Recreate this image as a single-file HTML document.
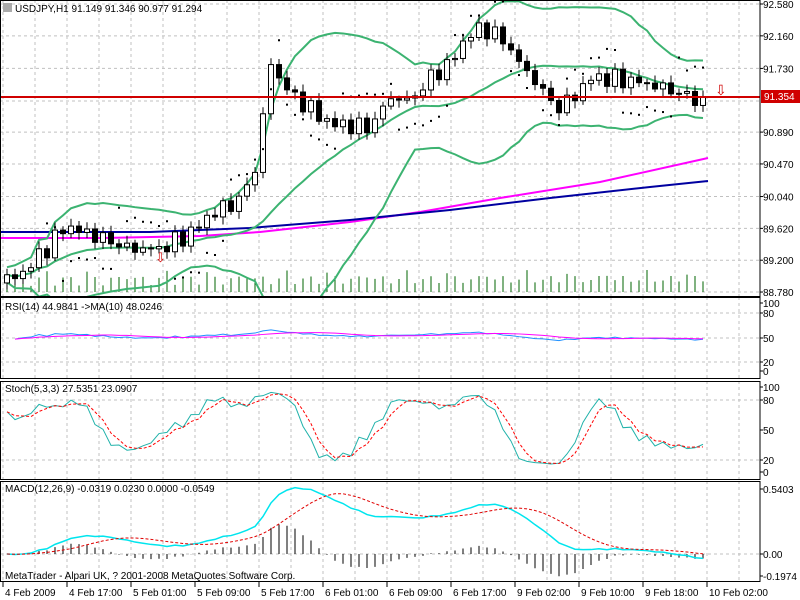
<!DOCTYPE html>
<html><head><meta charset="utf-8"><style>
body{margin:0;background:#fff;}
svg{display:block;font-family:"Liberation Sans",sans-serif;font-size:10px;}
</style></head><body>
<svg id="s" width="800" height="600" xmlns="http://www.w3.org/2000/svg"></svg>
<script>
const S=document.getElementById('s');let h='<defs><clipPath id="cm"><rect x="0" y="0" width="760" height="296"/></clipPath><clipPath id="cr"><rect x="0" y="298" width="760" height="80"/></clipPath></defs>';
function add(x){h+=x;}
const R=760;
const P=[[0,297],[297,379],[381,480],[481,582]];
function grid(t,b){let g='';for(let x=3;x<R;x+=32)g+=`<line x1="${x}" y1="${t}" x2="${x}" y2="${b}" stroke="#c0c0c0" stroke-dasharray="3,3"/>`;return g;}
P.forEach(p=>add(grid(p[0],p[1])));
function hl(y){add(`<line x1="0" y1="${y}" x2="${R}" y2="${y}" stroke="#c0c0c0" stroke-dasharray="3,3"/>`);}
const Y=p=>4+(92.58-p)*75.8;
const lab=[92.58,92.16,91.73,91.30,90.89,90.47,90.04,89.62,89.20,88.78];
lab.forEach(v=>{hl(Y(v));if(v!=91.30)add(`<text x="763" y="${Y(v)+4}">${v.toFixed(3)}</text><line x1="${R}" y1="${Y(v)}" x2="${R+3}" y2="${Y(v)}" stroke="#000"/>`);});
const K=[[7,88.95],[20,89.0],[50,89.4],[65,89.65],[100,89.5],[130,89.35],[160,89.35],[190,89.55],[210,89.8],[240,90.0],[255,90.4],[262,91.0],[270,91.8],[290,91.4],[310,91.2],[330,91.0],[370,90.95],[390,91.35],[410,91.3],[430,91.6],[450,91.8],[470,92.2],[490,92.25],[510,92.0],[525,91.7],[540,91.5],[555,91.2],[570,91.3],[590,91.6],[610,91.6],[640,91.55],[670,91.45],[700,91.3],[708,91.29]];
function ip(x){for(let i=0;i<K.length-1;i++)if(x<=K[i+1][0]){const t=(x-K[i][0])/(K[i+1][0]-K[i][0]);return K[i][1]+t*(K[i+1][1]-K[i][1]);}return K[K.length-1][1];}
const xs=[],C=[],O=[],Hh=[],L=[];
let prev=88.9;
for(let x=7;x<=708;x+=8){const n=Math.sin(x*0.37)*0.08+Math.sin(x*1.3)*0.05;const c=ip(x)+n;xs.push(x);O.push(prev);C.push(c);Hh.push(Math.max(prev,c)+0.04+Math.abs(Math.sin(x))*0.06);L.push(Math.min(prev,c)-0.04-Math.abs(Math.cos(x))*0.06);prev=c;}
const N=C.length;
xs.forEach((x,i)=>{const v=6+Math.abs(Math.sin(i*2.1))*10+(i%5==0?6:0);add(`<line x1="${x}" y1="292" x2="${x}" y2="${292-v}" stroke="#006400"/>`);});
add(`<polyline fill="none" stroke="#ff00ff" stroke-width="2" points="0,238 100,238 200,236 260,232 350,222 420,212 500,198 600,182 708,158"/>`);
add(`<polyline fill="none" stroke="#0000a0" stroke-width="2" points="0,232 150,232 250,228 350,220 450,210 550,198 650,187 708,181"/>`);
let up=[],lo=[],mid=[];
for(let i=0;i<N;i++){const a=C.slice(Math.max(0,i-19),i+1);const m=a.reduce((s,v)=>s+v,0)/a.length;const sd=Math.sqrt(a.reduce((s,v)=>s+(v-m)*(v-m),0)/a.length)+0.05;up.push(xs[i]+','+Y(m+2*sd));lo.push(xs[i]+','+Y(m-2*sd));mid.push(xs[i]+','+Y(m));}
add('<g clip-path="url(#cm)">');
[up,lo,mid].forEach(a=>add(`<polyline fill="none" stroke="#3cb371" stroke-width="2" points="${a.join(' ')}"/>`));
add('</g>');
for(let i=0;i<N;i++){const x=xs[i];add(`<line x1="${x}" y1="${Y(Hh[i])}" x2="${x}" y2="${Y(L[i])}" stroke="#000"/>`);const t=Y(Math.max(O[i],C[i])),b=Y(Math.min(O[i],C[i]));add(`<rect x="${x-2.5}" y="${t}" width="5" height="${Math.max(1,b-t)}" fill="${C[i]>=O[i]?'#fff':'#000'}" stroke="#000"/>`);}
for(let i=5;i<N;i++){const d=(i%14<7)?Hh[i-1]+0.25:L[i-1]-0.25;add(`<rect x="${xs[i]-1}" y="${Y(d)}" width="2" height="2" fill="#000"/>`);}
add(`<line x1="0" y1="97" x2="${R}" y2="97" stroke="#d00000" stroke-width="2"/><rect x="761" y="90" width="39" height="13" fill="#d00000"/><text x="764" y="100" fill="#fff">91.354</text>`);
add(`<text x="155" y="262" fill="#d00000" font-size="13">⇩</text><text x="715" y="95" fill="#d00000" font-size="14">⇩</text>`);
add(`<rect x="3" y="3" width="9" height="9" fill="#aaa"/><text x="15" y="12">USDJPY,H1  91.149 91.346 90.977 91.294</text>`);
const ry=v=>371-v*0.68;
[[100,303],[80,313],[50,338],[20,362],[0,371]].forEach(([v,y])=>{if(v==80||v==50||v==20)hl(y);add(`<text x="763" y="${y+4}">${v}</text><line x1="${R}" y1="${y}" x2="${R+3}" y2="${y}" stroke="#000"/>`);});
let rsi=[],g=0.03,l=0.03;
for(let i=1;i<N;i++){const d=C[i]-C[i-1];g=(g*13+Math.max(d,0))/14;l=(l*13+Math.max(-d,0))/14;rsi.push(100-100/(1+g/(l||1e-6)));}
const rs=rsi.map((v,i)=>48+(v-50)*0.35);
let rp=rs.map((v,i)=>xs[i+1]+','+ry(v)).join(' ');
let rma=rs.map((v,i)=>{const a=rs.slice(Math.max(0,i-9),i+1);return xs[i+1]+','+ry(a.reduce((s,q)=>s+q,0)/a.length);}).join(' ');
add(`<g clip-path="url(#cr)"><polyline fill="none" stroke="#1e90ff" points="${rp}"/><polyline fill="none" stroke="#ff00ff" points="${rma}"/></g>`);
add(`<text x="5" y="310">RSI(14) 44.9841  ->MA(10) 48.0246</text>`);
const sy=v=>472-v*0.85;
[[100,387],[80,400],[50,430],[20,460],[0,472]].forEach(([v,y])=>{if(v==80||v==20)hl(y);add(`<text x="763" y="${y+4}">${v}</text><line x1="${R}" y1="${y}" x2="${R+3}" y2="${y}" stroke="#000"/>`);});
let k=[];for(let i=0;i<N;i++){const a=Math.max(0,i-4);const hh=Math.max(...Hh.slice(a,i+1)),ll=Math.min(...L.slice(a,i+1));k.push((C[i]-ll)/(hh-ll)*100);}
const sm=(arr,n)=>arr.map((v,i)=>{const a=arr.slice(Math.max(0,i-n+1),i+1);return a.reduce((s,q)=>s+q,0)/a.length;});
const k3=sm(k,3),d3=sm(k3,3);
add(`<polyline fill="none" stroke="#20b2aa" points="${k3.map((v,i)=>xs[i]+','+sy(v)).join(' ')}"/><polyline fill="none" stroke="#ff0000" stroke-dasharray="3,2" points="${d3.map((v,i)=>xs[i]+','+sy(v)).join(' ')}"/>`);
add(`<text x="5" y="392">Stoch(5,3,3) 27.5351 23.0907</text>`);
const my=v=>554-v*120;
[[0.5403,489],[0,554],[-0.1974,576]].forEach(([v,y])=>{add(`<text x="763" y="${y+4}">${v.toFixed(v?4:2)}</text><line x1="${R}" y1="${y}" x2="${R+3}" y2="${y}" stroke="#000"/>`);});
hl(554);
const ema=(arr,n)=>{let e=arr[0],o=[];const a=2/(n+1);arr.forEach(v=>{e=e+a*(v-e);o.push(e);});return o;};
const e12=ema(C,12),e26=ema(C,26);const m=e12.map((v,i)=>v-e26[i]);const sig=sm(m,9);
m.forEach((v,i)=>add(`<line x1="${xs[i]}" y1="554" x2="${xs[i]}" y2="${my(v-sig[i])}" stroke="#000"/>`));
add(`<polyline fill="none" stroke="#00e5ee" stroke-width="1.5" points="${m.map((v,i)=>xs[i]+','+my(v)).join(' ')}"/><polyline fill="none" stroke="#e00000" stroke-dasharray="3,2" points="${sig.map((v,i)=>xs[i]+','+my(v)).join(' ')}"/>`);
add(`<text x="5" y="492">MACD(12,26,9) -0.0319 0.0230 0.0000 -0.0549</text><text x="5" y="579">MetaTrader - Alpari UK, ? 2001-2008 MetaQuotes Software Corp.</text>`);
P.forEach(p=>add(`<rect x="0.5" y="${p[0]+0.5}" width="${R-0.5}" height="${p[1]-p[0]-1}" fill="none" stroke="#000"/>`));
const tl=['4 Feb 2009','4 Feb 17:00','5 Feb 01:00','5 Feb 09:00','5 Feb 17:00','6 Feb 01:00','6 Feb 09:00','6 Feb 17:00','9 Feb 02:00','9 Feb 10:00','9 Feb 18:00','10 Feb 02:00'];
tl.forEach((t,i)=>{const x=3+64*i;add(`<line x1="${x}" y1="582" x2="${x}" y2="587" stroke="#000"/><text x="${x+2}" y="596">${t}</text>`);});
S.innerHTML=h;
</script>
</body></html>
